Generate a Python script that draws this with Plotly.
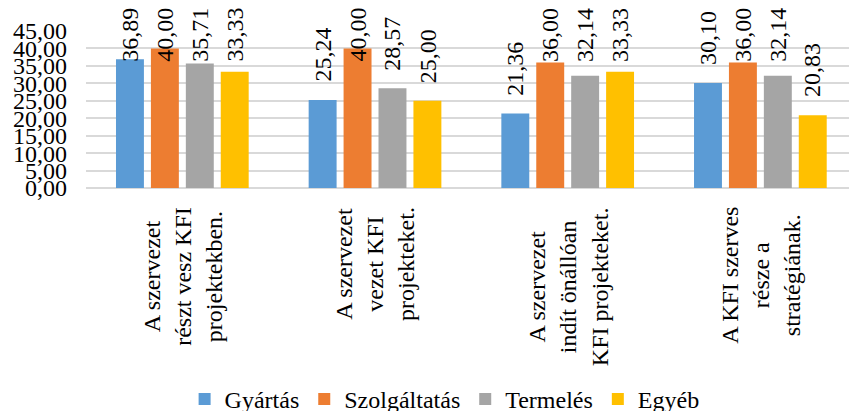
import plotly.graph_objects as go

# Survey results: share of respondents (%) by sector
categories = [
    "A szervezet<br>részt vesz KFI<br>projektekben.",
    "A szervezet<br>vezet KFI<br>projekteket.",
    "A szervezet<br>indít önállóan<br>KFI projekteket.",
    "A KFI szerves<br>része a<br>stratégiának.",
]
series_names = ["Gyártás", "Szolgáltatás", "Termelés", "Egyéb"]
gyartas = [36.89, 25.24, 21.36, 30.10]
szolgaltatas = [40.00, 40.00, 36.00, 36.00]
termeles = [35.71, 28.57, 32.14, 32.14]
egyeb = [33.33, 25.00, 33.33, 20.83]
y_ticks = [0, 5, 10, 15, 20, 25, 30, 35, 40, 45]

series_values = [gyartas, szolgaltatas, termeles, egyeb]
colors = ["#5B9BD5", "#ED7D31", "#A5A5A5", "#FFC000"]

FONT = "Liberation Serif"
FS = 24
BARGAP = 0.275
GROUPGAP = 0.2
LABEL_CAP = 31.0  # labels of taller bars stay inside the chart area

positions = list(range(len(categories)))

fig = go.Figure()
for name, vals, col in zip(series_names, series_values, colors):
    fig.add_trace(go.Bar(x=positions, y=vals, name=name, marker_color=col,
                         marker_line_width=0))

slot = (1 - BARGAP) / len(series_values)
for j, vals in enumerate(series_values):
    for i, v in enumerate(vals):
        fig.add_annotation(
            x=i + (j - (len(series_values) - 1) / 2) * slot,
            y=min(v, LABEL_CAP), xref="x", yref="y",
            text=f"{v:.2f}".replace(".", ","),
            textangle=-90, showarrow=False,
            xanchor="center", yanchor="bottom", yshift=16,
            font=dict(family=FONT, size=FS, color="black"),
        )

for i, cat in enumerate(categories):
    fig.add_annotation(
        x=i, y=0, xref="x", yref="y", text=cat, textangle=-90,
        showarrow=False, align="center", xanchor="center", yanchor="top",
        yshift=-17, font=dict(family=FONT, size=FS, color="black"),
    )

fig.update_layout(
    width=849, height=411,
    margin=dict(l=86, r=0, t=31, b=223, autoexpand=False),
    plot_bgcolor="white", paper_bgcolor="white",
    barmode="group", bargap=BARGAP, bargroupgap=GROUPGAP,
    separators=", ",
    font=dict(family=FONT, size=FS, color="black"),
    legend=dict(orientation="h", x=0.47, xanchor="center",
                yref="container", y=0.028, yanchor="middle",
                font=dict(family=FONT, size=FS, color="black"),
                itemwidth=30, traceorder="normal"),
    xaxis=dict(range=[-0.5, 3.46], showticklabels=False, showgrid=False,
               zeroline=False, showline=False, fixedrange=True),
    yaxis=dict(range=[0, 45], tickvals=y_ticks, tickformat=".2f",
               showgrid=True, gridcolor="#D9D9D9", gridwidth=1.5,
               zeroline=True, zerolinecolor="#D9D9D9", zerolinewidth=1.5,
               showline=False, ticks="", ticklabelstandoff=18,
               tickfont=dict(family=FONT, size=FS, color="black")),
)

fig.write_html("out.html")
